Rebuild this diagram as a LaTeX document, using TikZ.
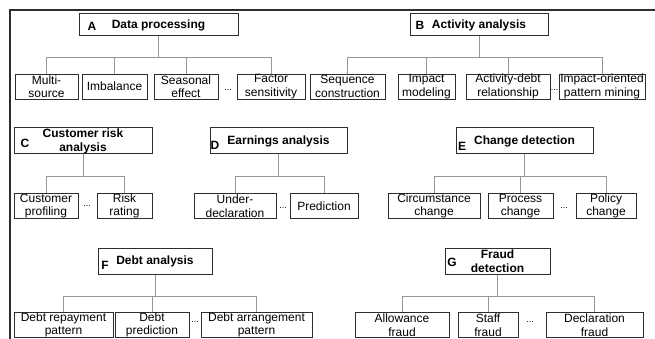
\documentclass[tikz,border=0pt]{standalone}
\usepackage{fontspec}
\setmainfont{Liberation Sans}
\usetikzlibrary{positioning}
\definecolor{boxgray}{RGB}{45,45,45}
\definecolor{linegray}{RGB}{150,150,150}

\begin{document}
\begin{tikzpicture}[x=1pt,y=-1pt,font=\fontsize{12}{13.5}\selectfont,
        topic/.style={draw=boxgray,line width=1pt,inner sep=0pt,minimum height=26pt,
          align=center,font=\fontsize{12}{14}\selectfont\bfseries},
        item/.style={draw=boxgray,line width=0.9pt,inner sep=0pt,minimum height=25pt,align=center},
        tag/.style={inner sep=0pt,font=\fontsize{12}{14}\selectfont\bfseries},
        more/.style={inner sep=0pt,font=\fontsize{9}{10}\selectfont},
        link/.style={draw=linegray,line width=0.9pt}]
        \useasboundingbox (0,0) rectangle (655,339);
        \draw[boxgray,line width=1.3pt] (10,339) -- (10,10) -- (655,10);
        % A: data processing
        \node[topic,minimum height=22pt,minimum width=159pt] (A) at (158.5,25) {Data processing};
        \node[tag] (tA) at (92,26) {A};
        \node[item,minimum width=63pt] (a1) at (46.5,86.5) {Multi-\\source};
        \node[item,minimum width=65pt] (a2) at (114.5,86.5) {Imbalance};
        \node[item,minimum width=64pt] (a3) at (186,86.5) {Seasonal\\effect};
        \node[more] (mA) at (228,90) {...};
        \node[item,minimum width=68pt] (a4) at (271,86.5) {Factor\\sensitivity};
        % B: activity analysis
        \node[topic,minimum height=22pt,minimum width=138pt] (B) at (479,25) {Activity analysis};
        \node[tag] (tB) at (420,25) {B};
        \node[item,minimum width=75pt] (b1) at (347.5,86.5) {Sequence\\construction};
        \node[item,minimum width=57pt] (b2) at (426.5,86.5) {Impact\\modeling};
        \node[item,minimum width=84pt] (b3) at (508,86.5) {Activity-debt\\relationship};
        \node[more] (mB) at (554.5,90) {...};
        \node[item,minimum width=86pt] (b4) at (602,86.5) {Impact-oriented\\pattern mining};
        % C: customer risk analysis
        \node[topic,minimum width=138pt] (C) at (83,141) {Customer risk\\analysis};
        \node[tag] (tC) at (25,143) {C};
        \node[item,minimum width=64pt] (c1) at (46,206) {Customer\\profiling};
        \node[more] (mC) at (87,206) {...};
        \node[item,minimum width=55pt] (c2) at (124.5,206) {Risk\\rating};
        % D: earnings analysis
        \node[topic,minimum width=137pt] (D) at (278.5,141) {Earnings analysis};
        \node[tag] (tD) at (215,145) {D};
        \node[item,minimum width=82pt] (d1) at (235,206) {Under-\\declaration};
        \node[more] (mD) at (283,208) {...};
        \node[item,minimum width=68pt] (d2) at (324,206) {Prediction};
        % E: change detection
        \node[topic,minimum width=137pt] (E) at (524.5,141) {Change detection};
        \node[tag] (tE) at (462,146) {E};
        \node[item,minimum width=92pt] (e1) at (434,206) {Circumstance\\change};
        \node[item,minimum width=65pt] (e2) at (520.5,206) {Process\\change};
        \node[more] (mE) at (564,208) {...};
        \node[item,minimum width=60pt] (e3) at (606,206) {Policy\\change};
        % F: debt analysis
        \node[topic,minimum width=114pt] (F) at (155,261) {Debt analysis};
        \node[tag] (tF) at (105,265) {F};
        \node[item,minimum width=99pt] (f1) at (63.5,325) {Debt repayment\\pattern};
        \node[item,minimum width=74pt] (f2) at (152,325) {Debt\\prediction};
        \node[more] (mF) at (195,322) {...};
        \node[item,minimum width=111pt] (f3) at (256.5,325) {Debt arrangement\\pattern};
        % G: fraud detection
        \node[topic,minimum width=105pt] (G) at (497.5,261) {Fraud\\detection};
        \node[tag] (tG) at (452,262) {G};
        \node[item,minimum width=94pt] (g1) at (402,325) {Allowance\\fraud};
        \node[item,minimum width=60pt] (g2) at (488,325) {Staff\\fraud};
        \node[more] (mG) at (530,322) {...};
        \node[item,minimum width=97pt] (g3) at (594.5,325) {Declaration\\fraud};
        % tree links
        \draw[link] (A.south) -- ++(0,21) coordinate (jA);
        \foreach \c in {a1,a2,a3,a4} \draw[link] (\c.north) |- (jA);
        \draw[link] (B.south) -- ++(0,21) coordinate (jB);
        \foreach \c in {b1,b2,b3,b4} \draw[link] (\c.north) |- (jB);
        \draw[link] (C.south) -- ++(0,22) coordinate (jC);
        \foreach \c in {c1,c2} \draw[link] (\c.north) |- (jC);
        \draw[link] (D.south) -- ++(0,22) coordinate (jD);
        \foreach \c in {d1,d2} \draw[link] (\c.north) |- (jD);
        \draw[link] (E.south) -- ++(0,22) coordinate (jE);
        \foreach \c in {e1,e2,e3} \draw[link] (\c.north) |- (jE);
        \draw[link] (F.south) -- ++(0,22) coordinate (jF);
        \foreach \c in {f1,f2,f3} \draw[link] (\c.north) |- (jF);
        \draw[link] (G.south) -- ++(0,22) coordinate (jG);
        \foreach \c in {g1,g2,g3} \draw[link] (\c.north) |- (jG);
      \end{tikzpicture}
\end{document}
